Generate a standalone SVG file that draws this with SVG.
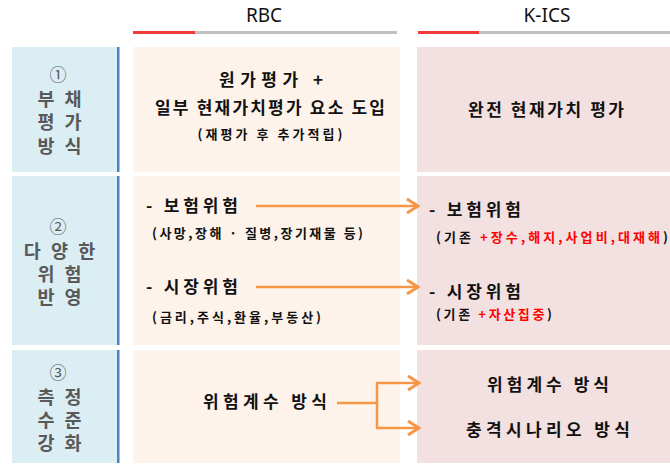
<svg xmlns="http://www.w3.org/2000/svg" width="670" height="469" viewBox="0 0 670 469">
<style>
.hdr{font-family:"Noto Sans","Noto Sans CJK KR",sans-serif;font-size:19px;fill:#111;text-anchor:middle}
.lbl{font-family:"Noto Sans CJK KR",sans-serif;font-size:18.5px;font-weight:bold;fill:#595959;text-anchor:middle;letter-spacing:3px}
.num{font-size:17px;font-weight:normal;letter-spacing:0}
.main{font-family:"Noto Sans CJK KR",sans-serif;font-size:17px;font-weight:bold;fill:#111}
.sub{font-family:"Noto Sans CJK KR",sans-serif;font-size:13px;font-weight:bold;fill:#111}
.mid{text-anchor:middle}
.red{fill:#ff0000}
.lc{fill:#dbeef4}
.rc{fill:#fdf3ea}
.kc{fill:#f3e0e0}
.bl{fill:#4f81bd}
.conn{stroke:#f79646;stroke-width:2.5;fill:none}
</style>
<defs>
<marker id="ah" markerWidth="16" markerHeight="18" refX="14" refY="9" orient="auto" markerUnits="userSpaceOnUse">
<path d="M3,2 L14,9 L3,16" fill="none" stroke="#f79646" stroke-width="3"/>
</marker>
</defs>
<rect width="670" height="469" fill="#ffffff"/>
<g id="header-rbc">
<text class="hdr" x="264" y="22">RBC</text>
<rect x="133" y="31" width="62" height="3" fill="#f03c3c"/>
<rect x="195" y="31" width="202" height="3" fill="#c0c0c0"/>
</g>
<g id="header-kics">
<text class="hdr" x="547" y="22">K-ICS</text>
<rect x="418" y="31" width="61" height="3" fill="#f03c3c"/>
<rect x="479" y="31" width="191" height="3" fill="#c0c0c0"/>
</g>
<g id="row1-label">
<rect class="lc" x="12" y="47" width="105" height="125"/>
<rect class="bl" x="117" y="47" width="2.5" height="125"/>
<text class="lbl"><tspan class="num" x="58" y="81">①</tspan><tspan x="61" y="105.5">부 채</tspan><tspan x="61" y="129">평 가</tspan><tspan x="61" y="152.5">방 식</tspan></text>
</g>
<g id="row1-rbc">
<rect class="rc" x="133" y="47" width="267" height="125"/>
<text class="main mid" x="271" y="86" textLength="104" lengthAdjust="spacing">원가평가 +</text>
<text class="main mid" x="270" y="114" textLength="230" lengthAdjust="spacing">일부 현재가치평가 요소 도입</text>
<text class="sub mid" x="270" y="139" textLength="145" lengthAdjust="spacing">(재평가 후 추가적립)</text>
</g>
<g id="row1-kics">
<rect class="kc" x="417" y="47" width="253" height="125"/>
<text class="main mid" x="546" y="116" textLength="156" lengthAdjust="spacing">완전 현재가치 평가</text>
</g>
<g id="row2-label">
<rect class="lc" x="12" y="176" width="105" height="169"/>
<rect class="bl" x="117" y="176" width="2.5" height="169"/>
<text class="lbl"><tspan class="num" x="58" y="233">②</tspan><tspan x="61" y="257.5">다 양 한</tspan><tspan x="61" y="280.5">위 험</tspan><tspan x="61" y="303.5">반 영</tspan></text>
</g>
<g id="row2-rbc">
<rect class="rc" x="133" y="176" width="267" height="169"/>
<text class="main" x="146" y="212" textLength="92" lengthAdjust="spacing">- 보험위험</text>
<text class="sub" x="152" y="237.5" textLength="211" lengthAdjust="spacing">(사망,장해 · 질병,장기재물 등)</text>
<text class="main" x="146" y="293" textLength="92" lengthAdjust="spacing">- 시장위험</text>
<text class="sub" x="152" y="321.5" textLength="169" lengthAdjust="spacing">(금리,주식,환율,부동산)</text>
</g>
<g id="row2-kics">
<rect class="kc" x="417" y="176" width="253" height="169"/>
<text class="main" x="429" y="216" textLength="92" lengthAdjust="spacing">- 보험위험</text>
<text class="sub" x="436" y="242" textLength="232" lengthAdjust="spacing">(기존 <tspan class="red">+장수,해지,사업비,대재해</tspan>)</text>
<text class="main" x="429" y="298" textLength="92" lengthAdjust="spacing">- 시장위험</text>
<text class="sub" x="436" y="319" textLength="116" lengthAdjust="spacing">(기존 <tspan class="red">+자산집중</tspan>)</text>
</g>
<g id="row3-label">
<rect class="lc" x="12" y="350" width="105" height="113"/>
<rect class="bl" x="117" y="350" width="2.5" height="113"/>
<text class="lbl"><tspan class="num" x="58" y="379">③</tspan><tspan x="61" y="403.5">측 정</tspan><tspan x="61" y="426.5">수 준</tspan><tspan x="61" y="449.5">강 화</tspan></text>
</g>
<g id="row3-rbc">
<rect class="rc" x="133" y="350" width="267" height="113"/>
<text class="main mid" x="265" y="408" textLength="124" lengthAdjust="spacing">위험계수 방식</text>
</g>
<g id="row3-kics">
<rect class="kc" x="417" y="350" width="253" height="113"/>
<text class="main mid" x="548" y="391" textLength="122" lengthAdjust="spacing">위험계수 방식</text>
<text class="main mid" x="548" y="436" textLength="164" lengthAdjust="spacing">충격시나리오 방식</text>
</g>
<g id="connectors">
<line class="conn" x1="256" y1="206" x2="418" y2="206" marker-end="url(#ah)"/>
<line class="conn" x1="256" y1="287" x2="418" y2="287" marker-end="url(#ah)"/>
<polyline class="conn" points="337,403 377,403"/>
<polyline class="conn" points="377,383 377,428"/>
<line class="conn" x1="376" y1="383" x2="419" y2="383" marker-end="url(#ah)"/>
<line class="conn" x1="376" y1="428" x2="419" y2="428" marker-end="url(#ah)"/>
</g>
</svg>
